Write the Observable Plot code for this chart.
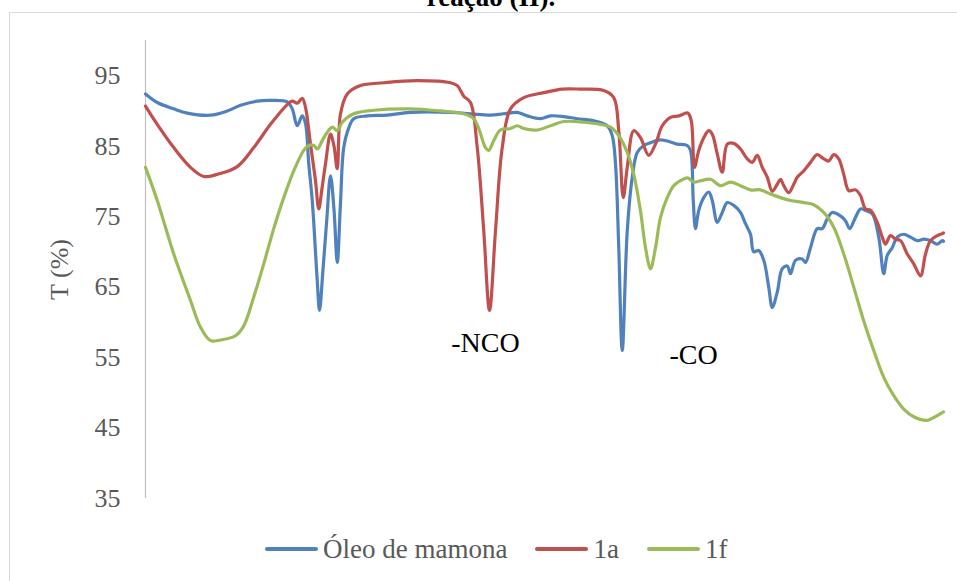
<!DOCTYPE html>
<html>
<head>
<meta charset="utf-8">
<script src="https://cdn.jsdelivr.net/npm/d3@7"></script>
<script src="https://cdn.jsdelivr.net/npm/@observablehq/plot@0.6"></script>
<style>
  html, body { margin: 0; padding: 0; background: #fff; overflow: hidden; width: 957px; height: 581px; }
  body { position: relative; font-family: "Liberation Serif", "Times New Roman", serif; }
  #title { position: absolute; left: 0; width: 982px; top: -16px; text-align: center; font-weight: bold; font-size: 27px; line-height: 27px; color: #000; }
  #frame { position: absolute; left: 9px; top: 12px; width: 2000px; height: 2000px; border: 1px solid #d9d9d9; box-sizing: border-box; }
  #chart { position: absolute; left: 0; top: 0; }
  #chart svg text { font-family: "Liberation Serif", "Times New Roman", serif; }
  #legend { position: absolute; left: 265px; top: 530px; height: 38px; display: flex; align-items: center; font-size: 27px; color: #595959; white-space: nowrap; }
  #legend .item { display: flex; align-items: center; margin-right: 28px; }
  #legend svg { margin-right: 5px; }
</style>
</head>
<body>
<div id="title">reação (II).</div>
<div id="frame"></div>
<div id="chart"></div>
<div id="legend"></div>
<script>
// Series names and colours
const seriesNames = ["Óleo de mamona", "1a", "1f"];
const seriesColors = ["#4F81BD", "#C0504D", "#9BBB59"];

// Y tick labels
const yTicks = [35, 45, 55, 65, 75, 85, 95];
const yDomain = [35, 100];
const xDomain = [4000, 808]; // wavenumber-like position (axis not labelled in reference)

// Annotations
const annotLabels = ["-NCO", "-CO"];
const annotX = [2640, 1808];
const annotY = [57.1, 55.4];

// Óleo de mamona: [x, T%]
const oleoMamona = [
[4000,92.4],[3953,91.2],[3887,90.3],[3833,89.7],[3740,89.4],[3673,90.0],[3620,90.8],[3553,91.4],[3500,91.5],[3433,91.3],
[3413,90.3],[3393,87.9],[3373,89.3],[3360,88.2],[3347,82.5],[3333,77.3],[3313,65.9],[3304,61.7],[3290,67.5],[3275,74.5],
[3260,80.8],[3246,76.0],[3233,68.5],[3220,77.0],[3207,84.8],[3188,87.5],[3167,88.9],[3113,89.3],[3033,89.4],[2940,89.8],
[2780,89.8],[2700,89.6],[2620,89.4],[2568,89.6],[2513,89.8],[2473,89.3],[2420,88.9],[2380,89.3],[2327,89.2],[2273,88.9],
[2207,88.6],[2153,87.9],[2133,86.5],[2120,82.5],[2107,70.6],[2093,56.0],[2073,73.0],[2053,80.6],[2033,84.1],[2007,85.1],
[1980,85.5],[1940,85.9],[1900,85.6],[1873,85.3],[1833,85.1],[1820,84.4],[1809,77.3],[1800,73.3],[1787,75.9],[1767,77.7],
[1747,78.5],[1733,77.3],[1713,74.2],[1693,75.6],[1673,77.0],[1647,76.6],[1620,75.6],[1600,74.0],[1580,72.5],[1567,70.0],
[1547,70.2],[1527,68.8],[1507,65.0],[1493,62.1],[1473,64.3],[1453,67.6],[1433,68.0],[1420,66.9],[1400,68.8],[1373,69.0],
[1360,68.5],[1340,70.6],[1313,73.3],[1293,73.3],[1273,74.7],[1253,75.6],[1220,75.1],[1200,74.4],[1183,73.3],[1160,74.9],
[1140,76.1],[1120,75.9],[1093,75.4],[1067,72.1],[1047,66.9],[1033,69.5],[1013,70.6],[993,72.1],[967,72.5],[940,72.1],
[913,71.6],[887,71.8],[860,71.6],[833,71.1],[813,71.6],[808,71.5]
];

// 1a: [x, T%]
const s1a = [
[4000,90.7],[3953,88.1],[3887,84.8],[3820,82.0],[3767,80.7],[3713,81.0],[3633,82.1],[3567,84.8],[3500,88.1],[3433,90.9],
[3413,91.4],[3393,91.1],[3373,91.8],[3360,90.5],[3340,85.3],[3320,80.1],[3307,76.1],[3294,79.0],[3280,82.5],[3260,86.7],
[3246,85.0],[3233,81.8],[3220,89.6],[3193,92.4],[3140,93.6],[3047,94.0],[2913,94.3],[2780,94.0],[2753,93.6],[2727,92.1],
[2700,91.2],[2673,84.8],[2647,73.0],[2624,61.7],[2600,73.0],[2573,84.8],[2540,90.3],[2487,91.9],[2407,92.6],[2333,93.1],
[2260,93.1],[2167,92.9],[2127,91.9],[2107,87.2],[2089,77.7],[2073,82.0],[2047,87.2],[2020,86.2],[1987,83.7],[1960,85.3],
[1933,87.9],[1900,89.1],[1867,89.3],[1831,89.7],[1817,88.6],[1804,82.0],[1787,84.4],[1767,86.2],[1747,87.2],[1733,86.7],
[1713,83.9],[1693,81.3],[1673,85.3],[1647,85.4],[1620,84.6],[1593,83.2],[1573,82.7],[1553,83.7],[1533,82.0],[1513,80.6],
[1493,78.6],[1473,79.6],[1460,80.3],[1447,79.4],[1427,78.4],[1407,79.6],[1393,80.6],[1367,81.5],[1340,82.7],[1313,83.8],
[1287,83.2],[1267,82.9],[1247,83.8],[1227,83.2],[1207,81.0],[1187,78.7],[1160,78.8],[1140,78.0],[1120,76.1],[1100,75.9],
[1073,74.2],[1053,72.1],[1040,71.1],[1020,72.3],[1000,71.8],[980,71.6],[953,69.7],[927,68.3],[900,66.6],[880,69.7],
[860,71.6],[833,72.3],[813,72.6],[808,72.7]
];

// 1f: [x, T%]
const s1f = [
[4000,82.0],[3953,77.3],[3887,69.7],[3820,63.1],[3780,59.3],[3740,57.4],[3700,57.5],[3640,58.1],[3607,59.5],[3567,63.6],
[3527,68.3],[3487,73.3],[3447,77.7],[3407,81.5],[3367,84.4],[3347,85.1],[3327,85.1],[3313,84.6],[3287,86.2],[3253,87.7],
[3233,87.2],[3213,88.4],[3167,89.6],[3087,90.1],[2940,90.3],[2820,90.0],[2727,89.6],[2687,88.9],[2667,87.5],[2640,84.8],
[2627,84.4],[2607,85.8],[2580,87.3],[2540,87.5],[2513,87.9],[2487,87.5],[2433,87.3],[2380,87.9],[2327,88.5],[2247,88.4],
[2180,88.1],[2140,87.7],[2107,86.5],[2073,84.1],[2047,81.0],[2020,75.8],[2000,70.6],[1980,67.6],[1960,70.6],[1940,74.9],
[1913,77.7],[1887,79.4],[1860,80.1],[1831,80.5],[1807,79.9],[1780,80.1],[1740,80.3],[1700,79.4],[1660,79.9],[1620,79.4],
[1580,78.8],[1540,78.8],[1500,78.2],[1460,77.7],[1420,77.3],[1367,77.0],[1327,76.7],[1287,75.6],[1247,73.5],[1207,69.7],
[1167,65.0],[1127,60.2],[1087,56.0],[1047,52.2],[1007,49.6],[967,47.7],[927,46.6],[873,46.1],[847,46.5],[813,47.2],[808,47.3]
];

const fontSerif = "'Liberation Serif', 'Times New Roman', serif";
const allSeries = [oleoMamona, s1a, s1f];
const rows = [];
allSeries.forEach((arr, i) => arr.forEach(([x, y]) => rows.push({series: seriesNames[i], x, y})));
const annots = annotLabels.map((t, i) => ({text: t, x: annotX[i], y: annotY[i]}));

const chart = Plot.plot({
  width: 957,
  height: 520,
  marginLeft: 145,
  marginRight: 14,
  marginTop: 40,
  marginBottom: 22,
  style: {fontFamily: fontSerif, background: "transparent", overflow: "visible"},
  x: {domain: xDomain, axis: null},
  y: {domain: yDomain},
  color: {domain: seriesNames, range: seriesColors},
  marks: [
    Plot.axisY({ticks: yTicks, tickSize: 0, tickPadding: 25, fontSize: 26, fill: "#595959", fontFamily: fontSerif,
      label: "T (%)", labelAnchor: "center", labelArrow: "none", labelOffset: 96}),
    Plot.ruleX([xDomain[0]], {stroke: "#bfbfbf", strokeWidth: 1.2}),
    Plot.line(rows, {x: "x", y: "y", z: "series", stroke: "series", strokeWidth: 3.2, curve: "catmull-rom", strokeLinejoin: "round", strokeLinecap: "round"}),
    Plot.text(annots, {x: "x", y: "y", text: "text", fontSize: 28, fill: "#000", textAnchor: "middle", fontFamily: fontSerif})
  ]
});
document.getElementById("chart").appendChild(chart);

// Legend
const legend = document.getElementById("legend");
seriesNames.forEach((name, i) => {
  const item = document.createElement("div");
  item.className = "item";
  item.innerHTML = `<svg width="53" height="6"><line x1="2" y1="3" x2="51" y2="3" stroke="${seriesColors[i]}" stroke-width="4" stroke-linecap="round"/></svg><span>${name}</span>`;
  legend.appendChild(item);
});
</script>
</body>
</html>
